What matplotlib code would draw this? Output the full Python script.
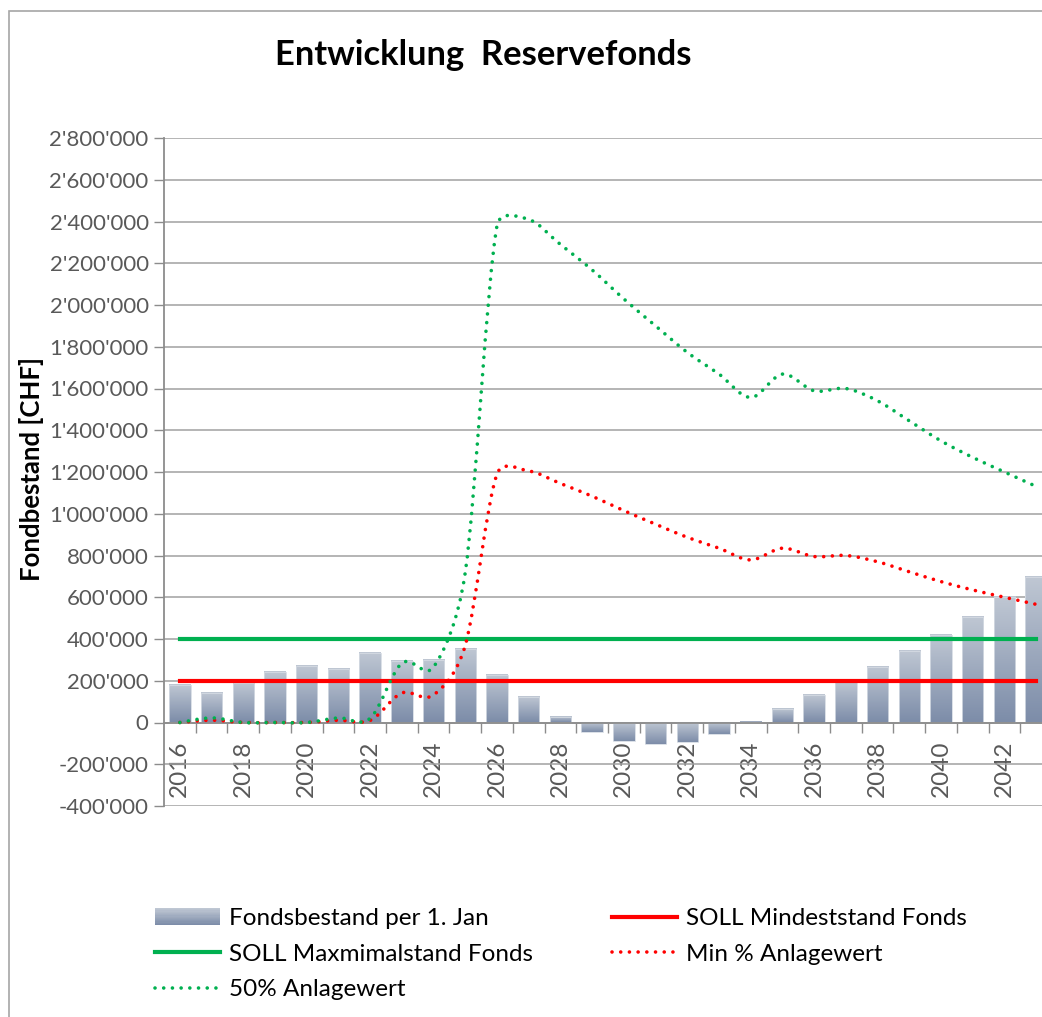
import numpy as np
import matplotlib
matplotlib.use('Agg')
import matplotlib.pyplot as plt
from matplotlib.path import Path
from matplotlib.patches import PathPatch, Rectangle
from matplotlib.lines import Line2D
from matplotlib.colors import LinearSegmentedColormap
from matplotlib.legend_handler import HandlerBase
from matplotlib.ticker import FuncFormatter

plt.rcParams['font.family'] = ['Lato', 'DejaVu Sans']

years = list(range(2016, 2044))

# Fondsbestand per 1. Jan
fund = [180000, 140000, 191000, 242000, 272000, 257000, 333000, 294000, 301000, 352000,
        229000, 120000, 24000, -45000, -89000, -105000, -94000, -57000, 4000, 64000,
        132000, 194000, 266000, 344000, 419000, 507000, 601000, 696000]

# 50% Anlagewert
pct50 = [0, 22000, 0, 0, 0, 22000, 20000, 284000, 266000, 720000,
         2380000, 2410000, 2290000, 2168000, 2029000, 1900000, 1773000, 1669000, 1557000, 1669000,
         1589000, 1600000, 1541000, 1445000, 1349000, 1270000, 1200000, 1131000]

# Min % Anlagewert
pct_min = [0, 11000, 0, 0, 0, 11000, 10000, 141000, 132000, 370000,
           1190000, 1205000, 1145000, 1084000, 1015000, 950000, 887000, 835000, 779000, 835000,
           795000, 800000, 770000, 722000, 675000, 635000, 600000, 566000]

soll_min = 200000
soll_max = 400000

GREEN = '#00B050'
RED = '#FF0000'
GRAY = '#8C8C8C'
TXT = '#595959'
bar_cmap = LinearSegmentedColormap.from_list('fb', ['#7D8DA9', '#BFC7D3'])

W, H = 1042, 1017
fig = plt.figure(figsize=(W / 100, H / 100), dpi=100)
ax_l, ax_r, ax_t, ax_b = 164, 1052, 138, 806
ax = fig.add_axes([ax_l / W, 1 - ax_b / H, (ax_r - ax_l) / W, (ax_b - ax_t) / H])
YMIN, YMAX = -400000, 2800000

x = np.arange(len(years))
bw = 0.68
grad = np.linspace(0, 1, 64).reshape(-1, 1)
for i, v in enumerate(fund):
    lo, hi = min(0, v), max(0, v)
    ax.imshow(grad, extent=[i - bw / 2, i + bw / 2, lo, hi], origin='lower',
              aspect='auto', cmap=bar_cmap, zorder=2, interpolation='bilinear')
ax.bar(x, fund, width=bw, facecolor='none', edgecolor='#D5DBE3', linewidth=0.6, zorder=2.1)

ax.plot(x, [soll_min] * len(x), color=RED, lw=3, zorder=3)
ax.plot(x, [soll_max] * len(x), color=GREEN, lw=3, zorder=3)

# pixel scale of the data, used for the Excel-like smoothing
sx = (ax_r - ax_l) / len(years)
sy = (ax_b - ax_t) / (YMAX - YMIN)


def smooth_path(xs, ys):
    # smoothed line as cubic Bezier segments, control arms limited to half a segment
    pts = np.column_stack([np.asarray(xs) * sx, np.asarray(ys) * sy]).astype(float)
    n = len(pts)
    verts = [pts[0]]
    codes = [Path.MOVETO]
    for i in range(n - 1):
        p0 = pts[i - 1] if i > 0 else pts[i]
        p1 = pts[i]
        p2 = pts[i + 1]
        p3 = pts[i + 2] if i + 2 < n else pts[i + 1]
        half = np.hypot(*(p2 - p1)) / 2
        v1 = p2 - p0
        v2 = p3 - p1
        a1 = min(1 / 6, half / max(np.hypot(*v1), 1e-9))
        a2 = min(1 / 6, half / max(np.hypot(*v2), 1e-9))
        verts += [p1 + v1 * a1, p2 - v2 * a2, p2]
        codes += [Path.CURVE4] * 3
    verts = np.array(verts)
    verts[:, 0] /= sx
    verts[:, 1] /= sy
    return Path(verts, codes)


dot = (0, (0.01, 2.4))
for ys, col in [(pct_min, RED), (pct50, GREEN)]:
    ax.add_patch(PathPatch(smooth_path(x, ys), fill=False, edgecolor=col, lw=2.6,
                           linestyle=dot, capstyle='round', zorder=4))

ax.set_xlim(-0.5, len(years) - 0.5)
ax.set_ylim(YMIN, YMAX)

ax.set_yticks(np.arange(YMIN, YMAX + 1, 200000))
ax.yaxis.set_major_formatter(FuncFormatter(lambda v, p: f"{int(round(v)):,}".replace(',', "'")))
ax.tick_params(axis='y', length=7, width=1, color=GRAY, labelcolor=TXT, labelsize=16, pad=4)
ax.yaxis.grid(True, color='#A0A0A0', lw=1.1)
ax.set_axisbelow(True)

ax.set_xticks(x[::2])
ax.set_xticklabels([str(y) for y in years[::2]])
ax.set_xticks(np.arange(0.5, len(years) - 1, 1), minor=True)
ax.tick_params(axis='x', which='major', length=0, labelcolor=TXT, labelsize=17.5, pad=13,
               labelrotation=90)
ax.tick_params(axis='x', which='minor', length=7, width=1, color=GRAY)

for s in ['top', 'right']:
    ax.spines[s].set_visible(False)
ax.spines['left'].set_color(GRAY)
ax.spines['left'].set_linewidth(1.3)
ax.spines['bottom'].set_position(('data', 0))
ax.spines['bottom'].set_color(GRAY)
ax.spines['bottom'].set_linewidth(1.3)

fig.text(483.5 / W, 1 - 55 / H, 'Entwicklung  Reservefonds', ha='center', va='center',
         fontsize=24.8, fontweight='bold')
fig.text(32 / W, 1 - 469 / H, 'Fondbestand [CHF]', rotation=90, ha='center', va='center',
         fontsize=18.5, fontweight='bold')

fig.add_artist(Rectangle((9 / W, -0.1), 1.2, 1 - 11 / H + 0.1, transform=fig.transFigure,
                         fill=False, edgecolor='#A6A6A6', lw=1.2))


class GradHandler(HandlerBase):
    def create_artists(self, legend, orig_handle, xdescent, ydescent, width, height, fontsize, trans):
        n = 14
        out = []
        for k in range(n):
            out.append(Rectangle((-xdescent, -ydescent + height * k / n), width, height / n * 1.05,
                                 facecolor=bar_cmap(k / (n - 1)), edgecolor='none', transform=trans))
        return out


h_bar = Rectangle((0, 0), 1, 1)
h_max = Line2D([], [], color=GREEN, lw=3)
h_50 = Line2D([], [], color=GREEN, lw=2.6, linestyle=dot, dash_capstyle='round')
h_min = Line2D([], [], color=RED, lw=3)
h_pmin = Line2D([], [], color=RED, lw=2.6, linestyle=dot, dash_capstyle='round')

common = dict(loc='upper left', frameon=False, fontsize=17.5, handlelength=2.66,
              handletextpad=0.4, labelspacing=0.6, borderpad=0, borderaxespad=0)
leg1 = fig.legend([h_bar, h_max, h_50],
                  ['Fondsbestand per 1. Jan', 'SOLL Maxmimalstand Fonds', '50% Anlagewert'],
                  bbox_to_anchor=(155 / W, 1 - 908 / H), handler_map={h_bar: GradHandler()}, **common)
leg2 = fig.legend([h_min, h_pmin], ['SOLL Mindeststand Fonds', 'Min % Anlagewert'],
                  bbox_to_anchor=(612 / W, 1 - 908 / H), **common)

fig.savefig('out.png', dpi=100)
